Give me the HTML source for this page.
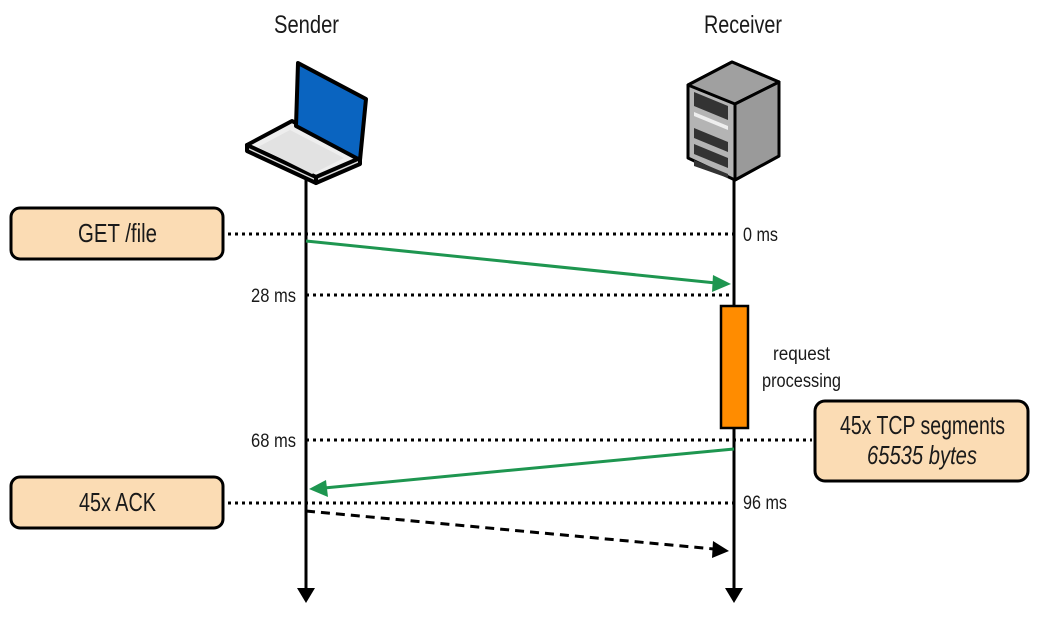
<!DOCTYPE html>
<html><head><meta charset="utf-8"><style>
html,body{margin:0;padding:0;background:#fff;width:1042px;height:643px;overflow:hidden}
svg text{font-family:"Liberation Sans",sans-serif;fill:#1a1a1a}
</style></head><body>
<svg width="1042" height="643" viewBox="0 0 1042 643" xmlns="http://www.w3.org/2000/svg">
<text x="274" y="33" font-size="25" textLength="65" lengthAdjust="spacingAndGlyphs">Sender</text>
<text x="704" y="33" font-size="25" textLength="78" lengthAdjust="spacingAndGlyphs">Receiver</text>
<!-- laptop -->
<g stroke="#000" stroke-width="4" stroke-linejoin="round">
<polygon points="247,145 292,121 360,158 318,178 300,175" fill="#eee"/>
<polygon points="298,63 366,99 360,160 296,126" fill="#0a64c0"/>
<polygon points="247,145 316,177 316,183 247,151" fill="#ddd"/>
<polygon points="316,177 360,158 360,164 316,183" fill="#ddd"/>
</g>
<polygon points="258,147 290,130 344,158 312,174" fill="#e2e2e2"/>
<!-- server -->
<g stroke="#000" stroke-width="3" stroke-linejoin="round">
<polygon points="688,85 732,62 779,82 779,156 735,180 688,158" fill="#b4b4b4"/>
<polygon points="688,85 732,62 779,82 735,104" fill="#a0a0a0"/>
<polygon points="735,104 779,82 779,156 735,180" fill="#9a9a9a"/>
</g>
<g fill="#333"><polygon points="694,92 728,106 728,120 694,106"/><polygon points="694,128 728,142 728,152 694,138"/><polygon points="694,144 728,158 728,168 694,154"/><polygon points="694,160 728,174 728,178 694,166"/></g>
<polygon points="694,112 728,126 728,130 694,116" fill="#eee"/>
<!-- lifelines -->
<line x1="306" y1="180" x2="306" y2="590" stroke="#000" stroke-width="3"/>
<polygon points="297,588 315,588 306,603" fill="#000"/>
<line x1="734" y1="180" x2="734" y2="590" stroke="#000" stroke-width="3"/>
<polygon points="725,588 743,588 734,603" fill="#000"/>
<!-- dotted -->
<g stroke="#000" stroke-width="3" stroke-dasharray="3,4">
<line x1="228" y1="234" x2="734" y2="234"/>
<line x1="306" y1="295" x2="734" y2="295"/>
<line x1="306" y1="440" x2="812" y2="440"/>
<line x1="228" y1="503" x2="734" y2="503"/>
</g>
<rect x="721" y="306" width="27" height="122" fill="#ff8c00" stroke="#000" stroke-width="2.5"/>
<!-- arrows -->
<line x1="306" y1="241" x2="716" y2="283" stroke="#1e9650" stroke-width="3"/>
<polygon points="731,284 713,275 712,292" fill="#1e9650"/>
<line x1="734" y1="449" x2="324" y2="488" stroke="#1e9650" stroke-width="3"/>
<polygon points="309,489 326,480 328,497" fill="#1e9650"/>
<line x1="306" y1="511" x2="714" y2="549" stroke="#000" stroke-width="3" stroke-dasharray="9,6"/>
<polygon points="729,551 713,541 712,558" fill="#000"/>
<!-- boxes -->
<rect x="11" y="208" width="212" height="51" rx="9" fill="#fbdcb4" stroke="#000" stroke-width="3"/>
<text x="78" y="242" font-size="26" textLength="79" lengthAdjust="spacingAndGlyphs">GET /file</text>
<rect x="11" y="477" width="212" height="51" rx="9" fill="#fbdcb4" stroke="#000" stroke-width="3"/>
<text x="79" y="511" font-size="26" textLength="77" lengthAdjust="spacingAndGlyphs">45x ACK</text>
<rect x="815" y="401" width="213" height="80" rx="10" fill="#fbdcb4" stroke="#000" stroke-width="3"/>
<text x="840" y="434" font-size="26" textLength="165" lengthAdjust="spacingAndGlyphs">45x TCP segments</text>
<text x="867" y="464" font-size="26" font-style="italic" textLength="110" lengthAdjust="spacingAndGlyphs">65535 bytes</text>
<!-- labels -->
<text x="743" y="241" font-size="19" textLength="35" lengthAdjust="spacingAndGlyphs">0 ms</text>
<text x="251" y="302" font-size="19" textLength="45" lengthAdjust="spacingAndGlyphs">28 ms</text>
<text x="251" y="447" font-size="19" textLength="45" lengthAdjust="spacingAndGlyphs">68 ms</text>
<text x="743" y="509" font-size="19" textLength="44" lengthAdjust="spacingAndGlyphs">96 ms</text>
<text x="773" y="360" font-size="19" textLength="57" lengthAdjust="spacingAndGlyphs">request</text>
<text x="762" y="387" font-size="19" textLength="79" lengthAdjust="spacingAndGlyphs">processing</text>
</svg>
</body></html>
